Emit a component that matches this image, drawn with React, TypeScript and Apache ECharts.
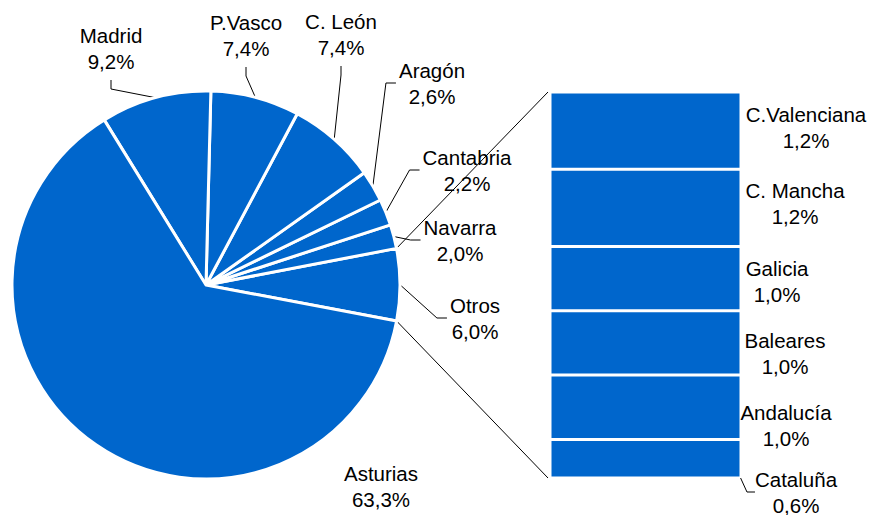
import React, { useEffect, useRef } from "react";
import * as echarts from "echarts";

// Pie slices (counter-clockwise from the Otros/Asturias boundary)
const pieNames = ["Otros", "Navarra", "Cantabria", "Aragón", "C. León", "P.Vasco", "Madrid", "Asturias"];
const pieValues = [6.0, 2.0, 2.2, 2.6, 7.4, 7.4, 9.2, 63.3];

// Breakdown of "Otros" (top to bottom)
const barNames = ["C.Valenciana", "C. Mancha", "Galicia", "Baleares", "Andalucía", "Cataluña"];
const barValues = [1.2, 1.2, 1.0, 1.0, 1.0, 0.6];

// label placement (styling)
const pieLabelPos: Record<string, { x: number; y: number; side: string }> = {
  Madrid: { x: 111, y: 48, side: "top" },
  "P.Vasco": { x: 246, y: 35, side: "top" },
  "C. León": { x: 341, y: 34, side: "top" },
  "Aragón": { x: 432, y: 83, side: "right" },
  Cantabria: { x: 467, y: 170, side: "right" },
  Navarra: { x: 460, y: 240, side: "right" },
  Otros: { x: 475, y: 318, side: "right" },
  Asturias: { x: 381, y: 486, side: "none" },
};
const barLabelPos: Record<string, { x: number; y: number }> = {
  "C.Valenciana": { x: 806, y: 127 },
  "C. Mancha": { x: 795, y: 203 },
  Galicia: { x: 777, y: 281 },
  Baleares: { x: 785, y: 353 },
  "Andalucía": { x: 786, y: 425 },
  "Cataluña": { x: 796, y: 492 },
};

const BLUE = "#0066CC";
const FONT = "'Liberation Sans', Arial, sans-serif";
const fmt = (v: number) => v.toFixed(1).replace(".", ",") + "%";

const CX = 206, CY = 285, R = 194, START = -10.7;
const G_LEFT = 550, G_TOP = 92, G_W = 191, G_H = 386;

export default function App() {
  const ref = useRef<HTMLDivElement>(null);
  useEffect(() => {
    if (!ref.current) return;
    const chart = echarts.init(ref.current, null, { renderer: "svg" });
    const total = pieValues.reduce((a, b) => a + b, 0);
    const otrosSpan = (pieValues[0] / total) * 360;
    const pt = (deg: number) => {
      const a = (deg * Math.PI) / 180;
      return [CX + R * Math.cos(a), CY - R * Math.sin(a)];
    };
    const pTop = pt(START + otrosSpan);
    const pBot = pt(START);

    const labelStyle = {
      color: "#000",
      fontFamily: FONT,
      fontSize: 20.5,
      lineHeight: 26,
    };

    const barSeries = barNames.map((name, i) => ({
      type: "bar",
      name,
      stack: "s",
      barWidth: "100%",
      data: [barValues[i]],
      itemStyle: { color: BLUE, borderColor: "#fff", borderWidth: 1.5 },
      label: {
        show: true,
        position: "right",
        formatter: () => `${name}\n${fmt(barValues[i])}`,
        ...labelStyle,
      },
      labelLine: {
        show: name === "Cataluña",
        length2: 8,
        lineStyle: { color: "#000", width: 1 },
      },
      labelLayout: () => {
        const p = barLabelPos[name];
        return { x: p.x, y: p.y, align: "center", verticalAlign: "middle" };
      },
    }));

    chart.setOption({
      animation: false,
      backgroundColor: "#fff",
      grid: { left: G_LEFT, top: G_TOP, width: G_W, height: G_H },
      xAxis: { type: "category", data: ["Otros"], show: false },
      yAxis: { type: "value", min: 0, max: 6, inverse: true, show: false },
      series: [
        {
          type: "pie",
          center: [CX, CY],
          radius: R,
          startAngle: START,
          clockwise: false,
          avoidLabelOverlap: false,
          data: pieNames.map((name, i) => ({
            name,
            value: pieValues[i],
            labelLine: name === "Asturias" ? { show: false } : undefined,
          })),
          itemStyle: { color: BLUE, borderColor: "#fff", borderWidth: 3 },
          label: {
            show: true,
            position: "outside",
            formatter: (p: any) => `${p.name}\n${fmt(p.value)}`,
            ...labelStyle,
          },
          labelLine: { show: true, length: 10, length2: 10, lineStyle: { color: "#000", width: 1 } },
          labelLayout: (p: any) => {
            const name = pieNames[p.dataIndex];
            const pos = pieLabelPos[name];
            const w = p.labelRect.width;
            const h = p.labelRect.height;
            let pts: number[][] | undefined;
            const lp = p.labelLinePoints;
            if (lp && lp.length && pos.side !== "none") {
              const start = [lp[0][0], lp[0][1]];
              if (pos.side === "top") {
                const ey = pos.y + h / 2 + 6;
                pts = [start, [pos.x, ey + 9], [pos.x, ey]];
              } else {
                const ex = pos.x - w / 2 - 3;
                pts = [start, [ex - 10, pos.y], [ex, pos.y]];
              }
            }
            const out: any = { x: pos.x, y: pos.y, align: "center", verticalAlign: "middle" };
            if (pts) out.labelLinePoints = pts;
            return out;
          },
        },
        ...barSeries,
      ],
      graphic: [
        {
          type: "line",
          shape: { x1: pTop[0], y1: pTop[1], x2: G_LEFT - 2, y2: G_TOP },
          style: { stroke: "#000", lineWidth: 1 },
          silent: true,
        },
        {
          type: "line",
          shape: { x1: pBot[0], y1: pBot[1], x2: G_LEFT - 2, y2: G_TOP + G_H },
          style: { stroke: "#000", lineWidth: 1 },
          silent: true,
        },
      ],
    });
    return () => chart.dispose();
  }, []);
  return (
    <div
      ref={ref}
      style={{ position: "fixed", left: 0, top: 0, width: 871, height: 515, background: "#fff" }}
    />
  );
}
